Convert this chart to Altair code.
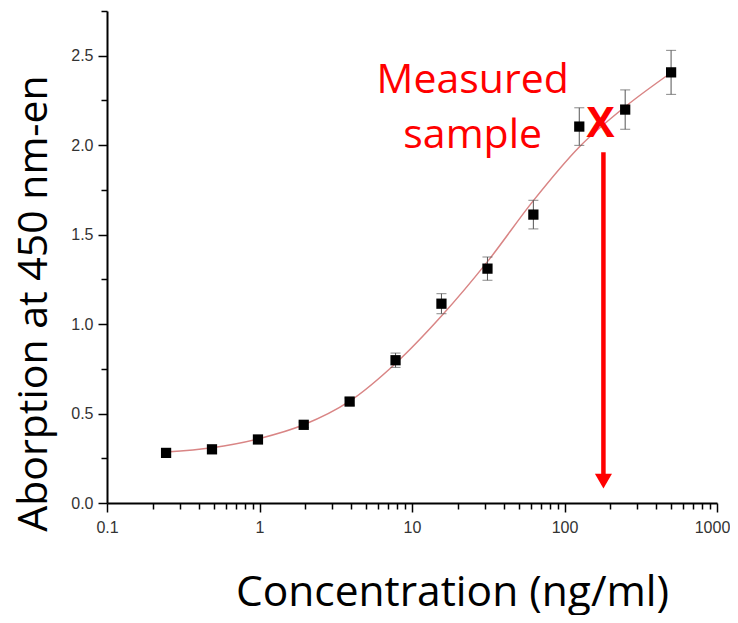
import altair as alt
import pandas as pd

# ---- data ----
conc = [0.244, 0.488, 0.977, 1.95, 3.9, 7.8, 15.6, 31.25, 62.5, 125, 250, 500]
absorb = [0.28, 0.30, 0.355, 0.437, 0.567, 0.798, 1.114, 1.31, 1.612, 2.104, 2.199, 2.407]
err = [0.012, 0.012, 0.015, 0.015, 0.02, 0.04, 0.056, 0.065, 0.08, 0.105, 0.11, 0.123]

# fitted curve at the same concentrations
curve_x = [0.244, 0.488, 0.977, 1.95, 3.9, 7.8, 15.6, 31.25, 62.5, 125, 250, 500]
curve_y = [0.285, 0.309, 0.358, 0.437, 0.569, 0.780, 1.045, 1.349, 1.69, 1.99, 2.215, 2.405]

ann_text = ["Measured", "sample"]
ann_x = [25, 25]
ann_y = [2.293, 1.987]

mark_x = [172]
mark_y = [2.043]

arrow_x = [180]
arrow_top = [1.96]
arrow_base = [0.149]
arrow_head = [0.1217]

x_ticks = [0.1, 0.2, 0.3, 0.4, 0.5, 0.6, 0.7, 0.8, 0.9,
           1, 2, 3, 4, 5, 6, 7, 8, 9,
           10, 20, 30, 40, 50, 60, 70, 80, 90,
           100, 200, 300, 400, 500, 600, 700, 800, 900, 1000]
y_ticks = [0, 0.25, 0.5, 0.75, 1.0, 1.25, 1.5, 1.75, 2.0, 2.25, 2.5, 2.75]

# ---- encodings ----
decade = "abs(log(datum.value)/LN10 - round(log(datum.value)/LN10)) < 1e-6"
x_scale = alt.Scale(type="log", domain=[0.1, 1000], nice=False)
y_scale = alt.Scale(domain=[0, 2.75], nice=False, zero=False)

x_axis = alt.Axis(
    values=x_ticks,
    labelExpr=f"({decade}) ? (datum.value < 1 ? '0.1' : format(datum.value, 'd')) : ''",
    tickSize={"condition": {"test": decade, "value": 9}, "value": 6},
    labelOffset={"condition": {"test": "datum.value == 1000", "value": -5}, "value": 0},
    labelOverlap=False, labelFlush=False, labelPadding=7,
    title="Concentration (ng/ml)", titleX=345, titleY=102, titleFontSize=42.5,
    titleAlign="center", titleBaseline="alphabetic", grid=False,
)
y_axis = alt.Axis(
    values=y_ticks,
    labelExpr="datum.value % 0.5 == 0 ? format(datum.value, '.1f') : ''",
    tickSize={"condition": {"test": "datum.value % 0.5 == 0", "value": 9}, "value": 6},
    labelOverlap=False, labelFlush=False, labelPadding=5,
    title="Aborption at 450 nm-en", titleX=-61, titleY=292, titleAngle=270,
    titleAlign="center", titleBaseline="alphabetic", grid=False,
)


def X(field):
    return alt.X(f"{field}:Q", scale=x_scale, axis=x_axis)


def Y(field):
    return alt.Y(f"{field}:Q", scale=y_scale, axis=y_axis)


pts = pd.DataFrame({"x": conc, "y": absorb,
                    "lo": [a - e for a, e in zip(absorb, err)],
                    "hi": [a + e for a, e in zip(absorb, err)]})
curve = pd.DataFrame({"x": curve_x, "y": curve_y})
ann = pd.DataFrame({"x": ann_x, "y": ann_y, "t": ann_text})
mk = pd.DataFrame({"x": mark_x, "y": mark_y, "t": ["X"]})
arr = pd.DataFrame({"x": arrow_x, "y": arrow_top, "y2": arrow_base, "yh": arrow_head})

line = alt.Chart(curve).mark_line(color="#d98585", strokeWidth=1.5, interpolate="monotone").encode(
    x=X("x"), y=Y("y"))
ebar = alt.Chart(pts).mark_rule(color="#555555", strokeWidth=1).encode(
    x=X("x"), y=Y("lo"), y2="hi:Q")
cap_lo = alt.Chart(pts).mark_tick(color="#555555", orient="horizontal", size=10, thickness=1).encode(
    x=X("x"), y=Y("lo"))
cap_hi = alt.Chart(pts).mark_tick(color="#555555", orient="horizontal", size=10, thickness=1).encode(
    x=X("x"), y=Y("hi"))
squares = alt.Chart(pts).mark_square(color="black", size=105, opacity=1).encode(
    x=X("x"), y=Y("y"))
text = alt.Chart(ann).mark_text(font="Open Sans", fontSize=41, color="#ff0000",
                                align="center", baseline="alphabetic").encode(
    x=X("x"), y=Y("y"), text="t:N")
xmark = alt.Chart(mk).mark_text(font="Open Sans", fontSize=42, fontWeight="bold", color="#ff0000",
                                align="center", baseline="alphabetic").encode(
    x=X("x"), y=Y("y"), text="t:N")
arrow_line = alt.Chart(arr).mark_rule(color="#ff0000", strokeWidth=4.5).encode(
    x=X("x"), y=Y("y"), y2="y2:Q")
arrow_tip = alt.Chart(arr).mark_point(shape="triangle-down", filled=True, color="#ff0000",
                                      size=290, opacity=1).encode(
    x=X("x"), y=Y("yh"))

chart = alt.layer(line, ebar, cap_lo, cap_hi, squares, text, xmark, arrow_line, arrow_tip).properties(
    width=610, height=492,
    autosize=alt.AutoSizeParams(type="none"),
    padding={"left": 99, "top": 3, "right": 13, "bottom": 112},
).configure_view(stroke=None).configure_axis(
    domainColor="black", domainWidth=2, tickColor="black", tickWidth=1.5,
    labelFont="Liberation Sans", labelFontSize=16, labelColor="#333333",
    titleFont="Open Sans", titleFontSize=41, titleFontWeight="normal", titleColor="black",
)

chart.save("out.html", embed_options={"renderer": "svg", "actions": False})
